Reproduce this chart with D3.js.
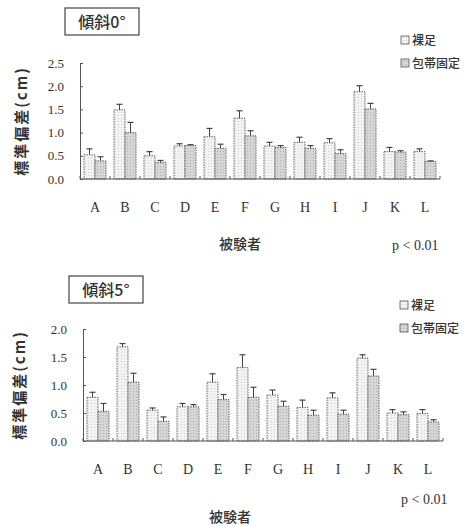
<!DOCTYPE html>
<html>
<head>
<meta charset="utf-8">
<script src="https://cdn.jsdelivr.net/npm/d3@7"></script>
<style>
  body { margin: 0; background: #fff; }
</style>
</head>
<body>
<div id="chart"></div>
<script>
// Subjects
var subjects = ["A", "B", "C", "D", "E", "F", "G", "H", "I", "J", "K", "L"];
var seriesNames = ["裸足", "包帯固定"];

// 傾斜0° : means and SD (cm)
var bare0 = [0.52, 1.49, 0.50, 0.71, 0.91, 1.31, 0.71, 0.79, 0.78, 1.88, 0.59, 0.59];
var bare0Err = [0.13, 0.12, 0.09, 0.05, 0.18, 0.16, 0.08, 0.11, 0.09, 0.13, 0.09, 0.06];
var band0 = [0.39, 1.00, 0.36, 0.72, 0.66, 0.93, 0.68, 0.66, 0.55, 1.51, 0.58, 0.38];
var band0Err = [0.09, 0.22, 0.04, 0.02, 0.09, 0.11, 0.04, 0.06, 0.08, 0.12, 0.03, 0.01];
var ticks0 = [0, 0.5, 1.0, 1.5, 2.0, 2.5];

// 傾斜5°
var bare5 = [0.78, 1.68, 0.55, 0.61, 1.05, 1.31, 0.82, 0.60, 0.77, 1.48, 0.50, 0.49];
var bare5Err = [0.09, 0.06, 0.04, 0.06, 0.15, 0.23, 0.09, 0.13, 0.09, 0.06, 0.06, 0.07];
var band5 = [0.53, 1.05, 0.35, 0.61, 0.74, 0.78, 0.62, 0.46, 0.48, 1.16, 0.47, 0.34];
var band5Err = [0.14, 0.16, 0.08, 0.04, 0.09, 0.18, 0.09, 0.09, 0.07, 0.12, 0.05, 0.04];
var ticks5 = [0, 0.5, 1.0, 1.5, 2.0];

var SERIF = "'Liberation Serif', 'DejaVu Serif', 'Times New Roman', serif";
var JP = "'Noto Sans CJK JP', sans-serif";

var svg = d3.select("#chart").append("svg")
    .attr("width", 473)
    .attr("height", 526);

// fill patterns for the two series
var defs = svg.append("defs");
var p1 = defs.append("pattern").attr("id", "patBare")
    .attr("width", 3).attr("height", 3).attr("patternUnits", "userSpaceOnUse");
p1.append("rect").attr("width", 3).attr("height", 3).attr("fill", "#f3f3f3");
p1.append("rect").attr("x", 1).attr("y", 1).attr("width", 1).attr("height", 1).attr("fill", "#d2d2d2");

var p2 = defs.append("pattern").attr("id", "patBand")
    .attr("width", 3).attr("height", 3).attr("patternUnits", "userSpaceOnUse");
p2.append("rect").attr("width", 3).attr("height", 3).attr("fill", "#d6d6d6");
p2.append("rect").attr("x", 1).attr("y", 1).attr("width", 1).attr("height", 1).attr("fill", "#b0b0b0");

var fills = ["url(#patBare)", "url(#patBand)"];

function drawPanel(cfg) {
    var g = svg.append("g");

    var x = d3.scaleBand()
        .domain(subjects)
        .range([cfg.x0, cfg.x0 + 360]);

    var inner = d3.scaleBand()
        .domain([0, 1])
        .range([4, x.bandwidth() - 4]);

    var y = d3.scaleLinear()
        .domain([0, cfg.ymax])
        .range([cfg.yBase, cfg.yTop]);

    // title box
    var tb = g.append("g").attr("transform", `translate(${cfg.titleX}, ${cfg.titleY})`);
    tb.append("rect").attr("width", 74).attr("height", 27)
        .attr("fill", "#fff").attr("stroke", "#444").attr("stroke-width", 1.2);
    tb.append("text")
        .style("font-family", JP)
        .attr("x", 37).attr("y", 20)
        .attr("text-anchor", "middle")
        .attr("font-size", 16)
        .attr("font-weight", 500)
        .attr("fill", "#333")
        .text(cfg.title);

    // legend
    seriesNames.forEach(function(name, i) {
        var ly = cfg.legendY + i * 23;
        g.append("rect")
            .attr("x", cfg.legendX).attr("y", ly - 4)
            .attr("width", 8).attr("height", 8)
            .attr("fill", fills[i]).attr("stroke", "#555").attr("stroke-width", 0.8);
        g.append("text")
            .style("font-family", JP)
            .attr("x", cfg.legendX + 11).attr("y", ly + 5)
            .attr("font-size", 12)
            .attr("font-weight", 500)
            .attr("fill", "#333")
            .text(name);
    });

    // y axis
    var yAxis = d3.axisRight(y).tickValues(cfg.ticks).tickSize(3).tickFormat("");
    var ya = g.append("g").attr("transform", `translate(${cfg.x0}, 0)`).call(yAxis);
    ya.select(".domain").attr("stroke", "#555");
    ya.selectAll("line").attr("stroke", "#555");

    g.selectAll(".ylab")
        .data(cfg.ticks)
        .enter()
        .append("text")
        .style("font-family", SERIF)
        .attr("x", cfg.x0 - 16)
        .attr("y", d => y(d) + 4.5)
        .attr("text-anchor", "end")
        .attr("font-size", 13)
        .attr("fill", "#333")
        .text(d => d.toFixed(1));

    // bars
    var series = [
        { vals: cfg.bare, errs: cfg.bareErr },
        { vals: cfg.band, errs: cfg.bandErr }
    ];
    series.forEach(function(s, si) {
        var rows = subjects.map((k, i) => ({ k: k, v: s.vals[i], e: s.errs[i] }));
        g.selectAll(null)
            .data(rows)
            .enter()
            .append("rect")
            .attr("x", d => x(d.k) + inner(si))
            .attr("y", d => y(d.v))
            .attr("width", inner.bandwidth())
            .attr("height", d => y(0) - y(d.v))
            .attr("fill", fills[si])
            .attr("stroke", "#555")
            .attr("stroke-width", 0.9)
            .attr("stroke-dasharray", "1.5,1");

        // error bars (upper only)
        var cx = d => x(d.k) + inner(si) + inner.bandwidth() / 2;
        g.selectAll(null)
            .data(rows)
            .enter()
            .append("line")
            .attr("x1", cx).attr("x2", cx)
            .attr("y1", d => y(d.v))
            .attr("y2", d => y(d.v + d.e))
            .attr("stroke", "#444").attr("stroke-width", 1);
        g.selectAll(null)
            .data(rows)
            .enter()
            .append("line")
            .attr("x1", d => cx(d) - 3).attr("x2", d => cx(d) + 3)
            .attr("y1", d => y(d.v + d.e))
            .attr("y2", d => y(d.v + d.e))
            .attr("stroke", "#444").attr("stroke-width", 1.2);
    });

    // x axis with small upward ticks at group boundaries
    var bounds = subjects.map(k => x(k)).concat([cfg.x0 + 360]);
    g.append("line")
        .attr("x1", cfg.x0).attr("x2", cfg.x0 + 360)
        .attr("y1", y(0)).attr("y2", y(0))
        .attr("stroke", "#555").attr("stroke-width", 1.2);
    g.selectAll(null)
        .data(bounds)
        .enter()
        .append("line")
        .attr("x1", d => d).attr("x2", d => d)
        .attr("y1", y(0)).attr("y2", y(0) - 3)
        .attr("stroke", "#555");

    g.selectAll(".xlab")
        .data(subjects)
        .enter()
        .append("text")
        .style("font-family", SERIF)
        .attr("x", d => x(d) + x.bandwidth() / 2)
        .attr("y", cfg.xLabY)
        .attr("text-anchor", "middle")
        .attr("font-size", 14)
        .attr("fill", "#333")
        .text(d => d);

    // axis titles
    g.append("text")
        .style("font-family", JP)
        .attr("transform", `translate(${cfg.yTitleX}, ${(cfg.yBase + cfg.yTop) / 2}) rotate(-90)`)
        .attr("text-anchor", "middle")
        .attr("font-size", 15)
        .attr("font-weight", 700)
        .attr("letter-spacing", 2)
        .attr("fill", "#333")
        .text("標準偏差(cm)");

    g.append("text")
        .style("font-family", JP)
        .attr("x", cfg.xTitleX).attr("y", cfg.xTitleY)
        .attr("text-anchor", "middle")
        .attr("font-size", 14)
        .attr("font-weight", 500)
        .attr("fill", "#333")
        .text("被験者");

    g.append("text")
        .style("font-family", SERIF)
        .attr("x", cfg.pX).attr("y", cfg.pY)
        .attr("font-size", 14)
        .attr("fill", "#333")
        .text("p < 0.01");
}

drawPanel({
    title: "傾斜0°", titleX: 65, titleY: 8,
    legendX: 401, legendY: 40,
    x0: 80, yBase: 179, yTop: 63, ymax: 2.5, ticks: ticks0,
    bare: bare0, bareErr: bare0Err, band: band0, bandErr: band0Err,
    xLabY: 212, yTitleX: 27, xTitleX: 240, xTitleY: 249,
    pX: 392, pY: 250
});

drawPanel({
    title: "傾斜5°", titleX: 69, titleY: 276,
    legendX: 400, legendY: 305,
    x0: 83, yBase: 441, yTop: 329, ymax: 2.0, ticks: ticks5,
    bare: bare5, bareErr: bare5Err, band: band5, bandErr: band5Err,
    xLabY: 474, yTitleX: 25, xTitleX: 230, xTitleY: 522,
    pX: 401, pY: 504
});
</script>
</body>
</html>
